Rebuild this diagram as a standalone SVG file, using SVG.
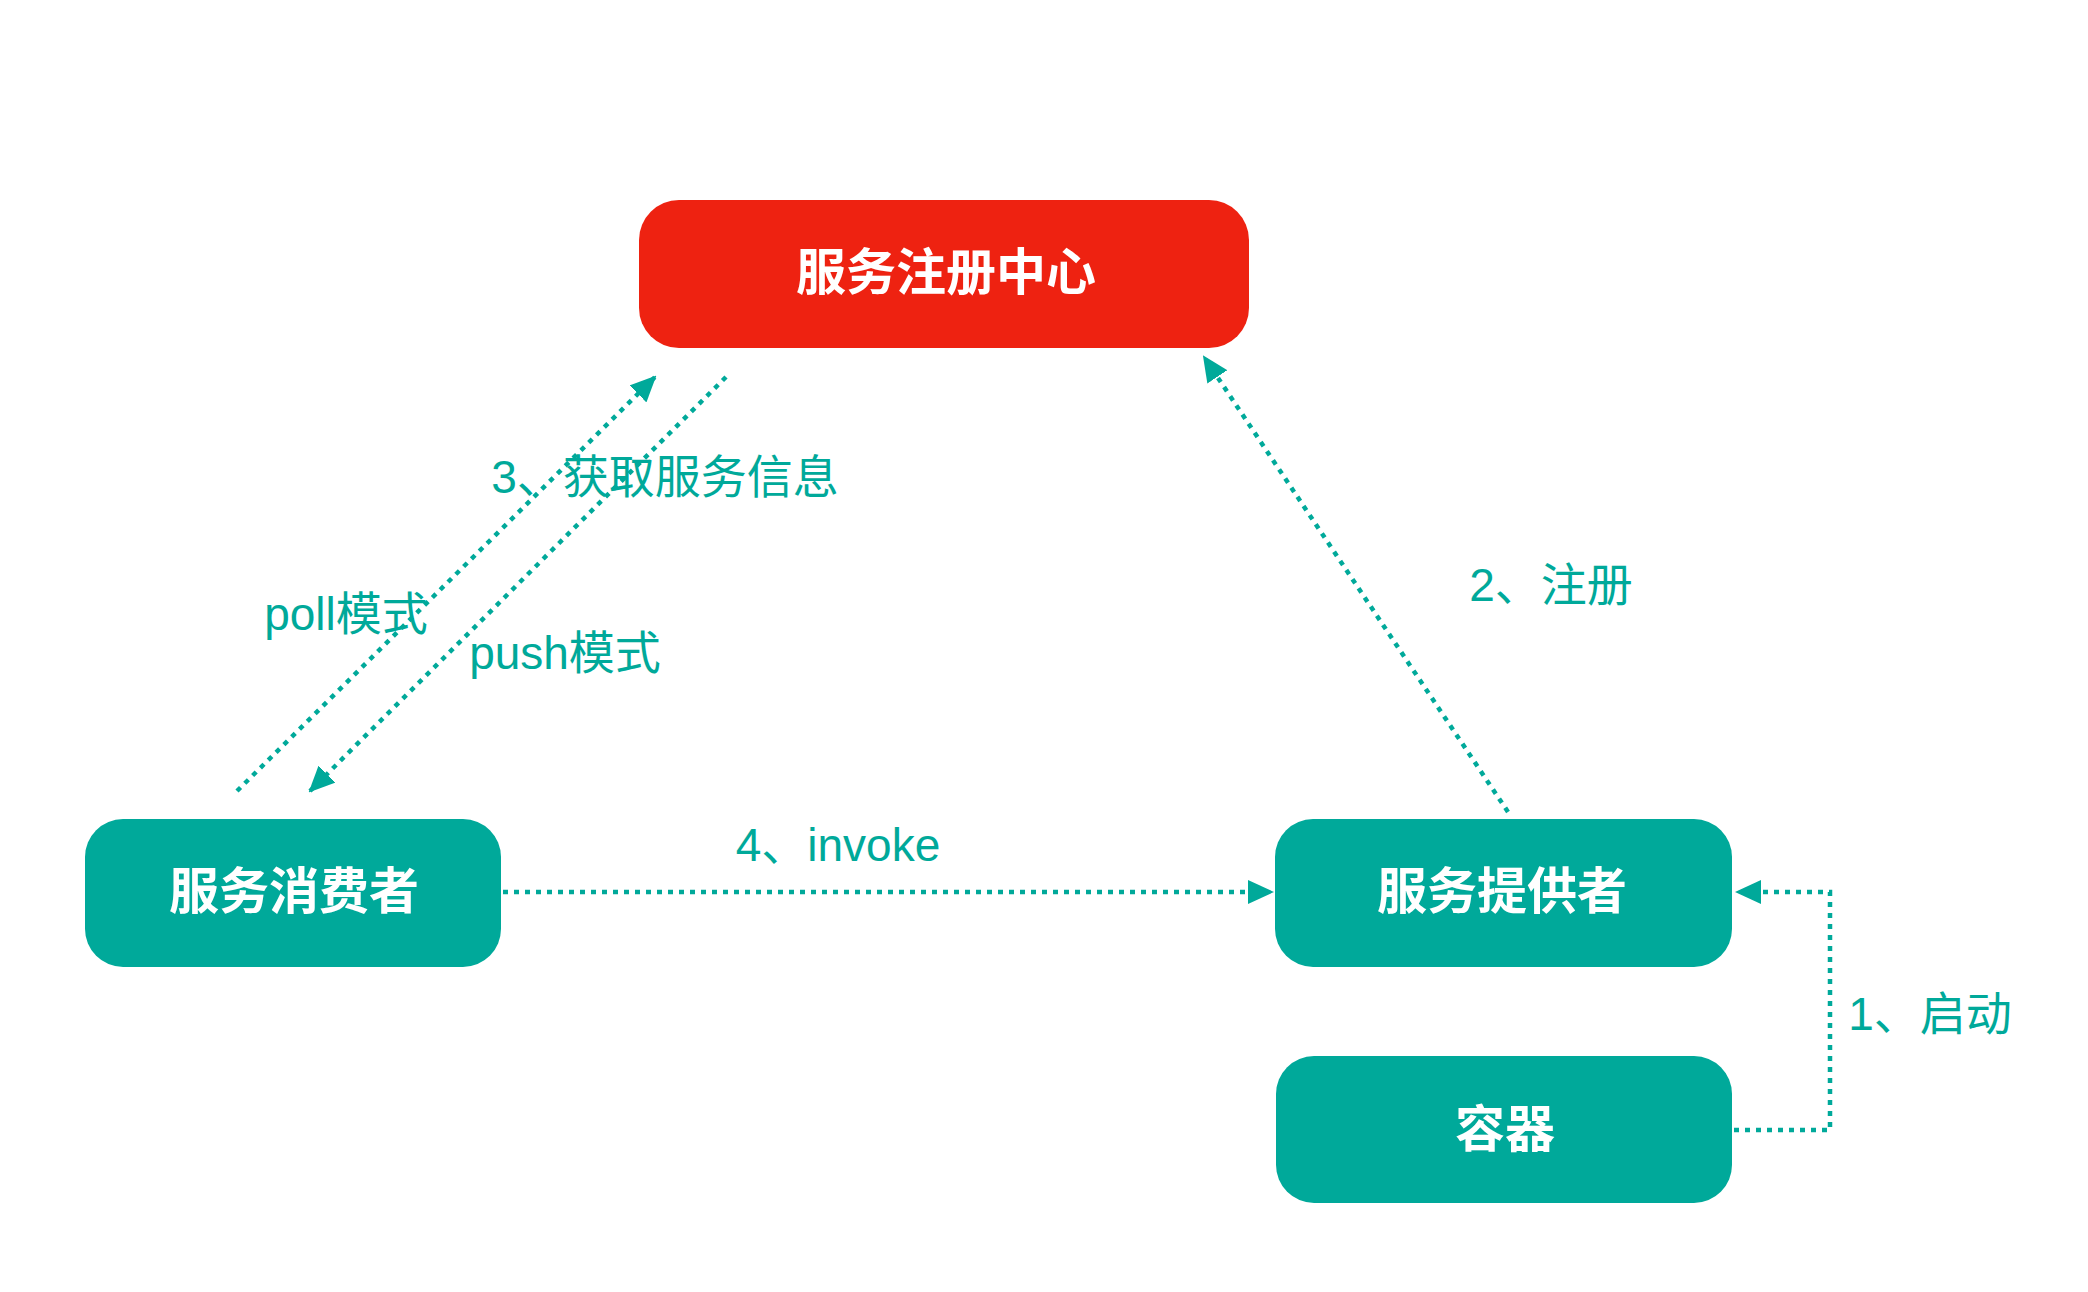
<svg xmlns="http://www.w3.org/2000/svg" width="2088" height="1292" viewBox="0 0 2088 1292">
<defs>
<style>
.red{fill:#EE2211;}
.teal{fill:#00A99A;}
.nt{font-family:"Liberation Sans","Noto Sans CJK SC",sans-serif;font-weight:bold;font-size:50px;fill:#ffffff;text-anchor:middle;dominant-baseline:central;}
.lb{font-family:"Liberation Sans","Noto Sans CJK SC",sans-serif;font-size:46px;fill:#00A99A;text-anchor:middle;dominant-baseline:central;}
.ln{fill:none;stroke:#00A99A;stroke-width:4.5;stroke-dasharray:5 6;}
</style>
<marker id="ah" markerUnits="userSpaceOnUse" markerWidth="26" markerHeight="24" refX="24" refY="12" orient="auto" viewBox="0 0 26 24">
<path d="M0,0 L26,12 L0,24 z" fill="#00A99A"/>
</marker>
</defs>
<rect width="2088" height="1292" fill="#ffffff"/>
<g id="registry">
<rect class="red" x="639" y="200" width="610" height="148" rx="40" ry="40"/>
<text class="nt" x="946" y="273">服务注册中心</text>
</g>
<g id="consumer">
<rect class="teal" x="85" y="819" width="416" height="148" rx="38" ry="38"/>
<text class="nt" x="294" y="892">服务消费者</text>
</g>
<g id="provider">
<rect class="teal" x="1275" y="819" width="457" height="148" rx="38" ry="38"/>
<text class="nt" x="1502" y="892">服务提供者</text>
</g>
<g id="container">
<rect class="teal" x="1276" y="1056" width="456" height="147" rx="38" ry="38"/>
<text class="nt" x="1505" y="1130">容器</text>
</g>
<g id="connectors">
<path class="ln" d="M237,791 L655,377" marker-end="url(#ah)"/>
<path class="ln" d="M726,377 L310,791" marker-end="url(#ah)"/>
<path class="ln" d="M1508,812 L1204,357" marker-end="url(#ah)"/>
<path class="ln" d="M503,892 L1272,892" marker-end="url(#ah)"/>
<path class="ln" d="M1734,1130 L1830,1130 L1830,892 L1737,892" marker-end="url(#ah)"/>
</g>
<g id="labels">
<text class="lb" x="665" y="477">3、获取服务信息</text>
<text class="lb" x="346" y="614">poll模式</text>
<text class="lb" x="565" y="653">push模式</text>
<text class="lb" x="1551" y="585">2、注册</text>
<text class="lb" x="838" y="845">4、invoke</text>
<text class="lb" x="1930" y="1014">1、启动</text>
</g>
</svg>
